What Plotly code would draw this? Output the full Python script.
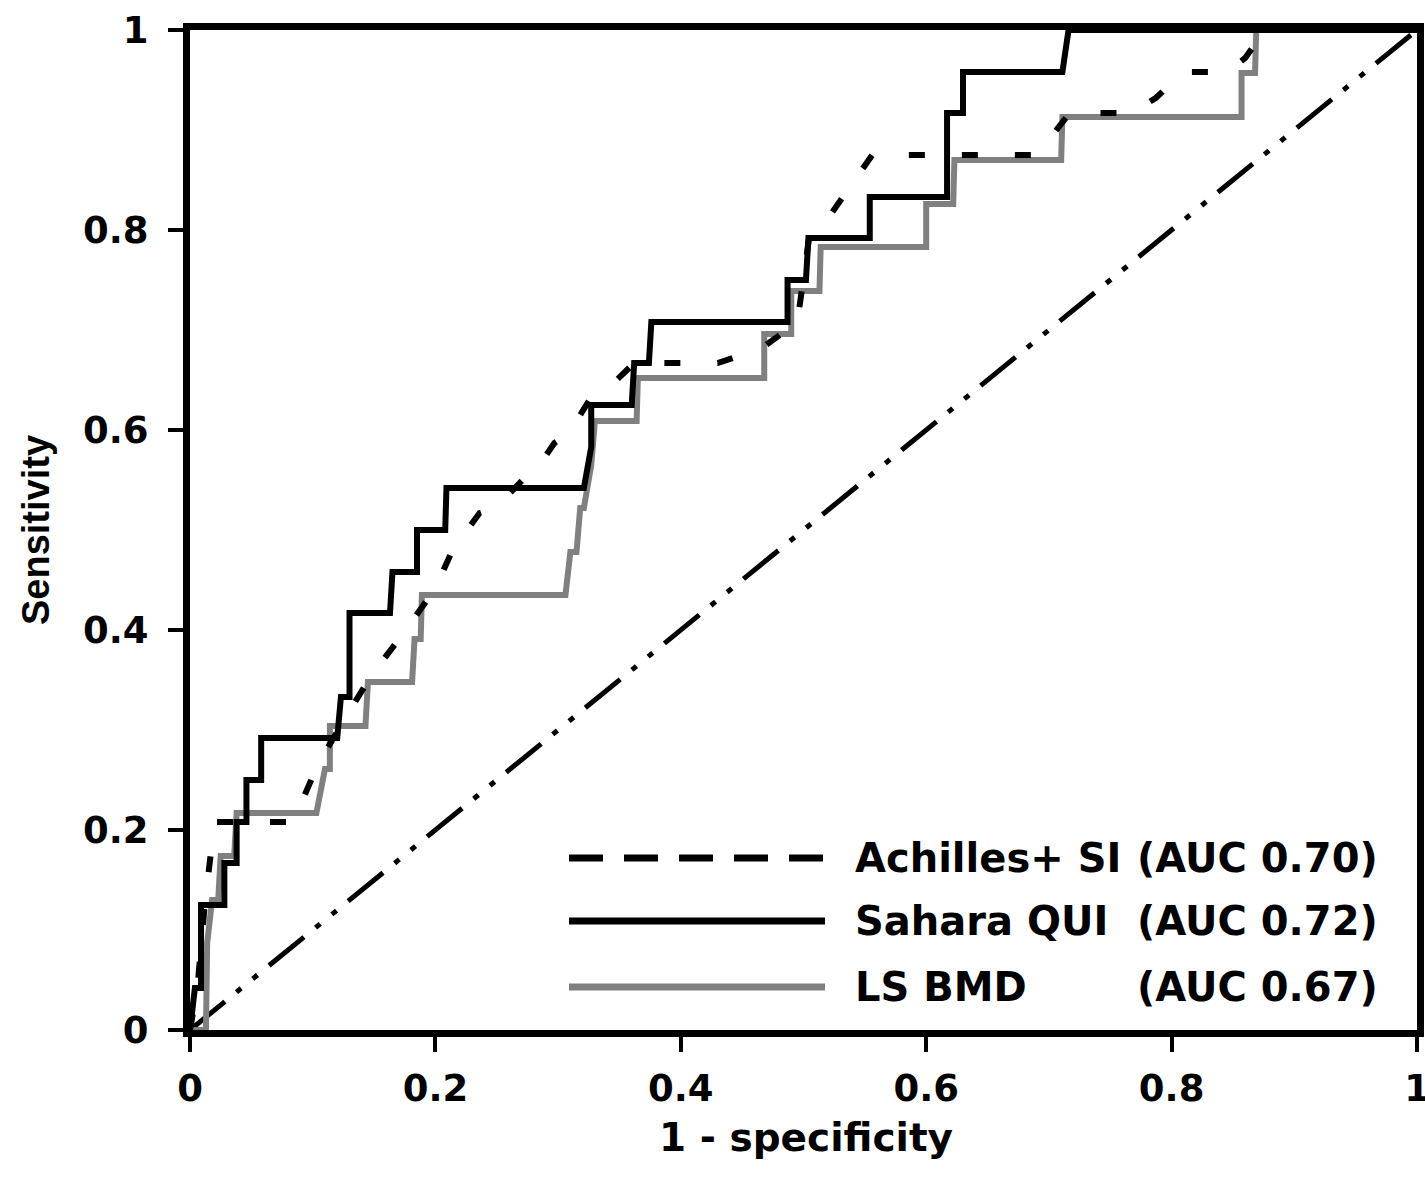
import plotly.graph_objects as go

# ---------------- data ----------------
sahara_fpr = [0, 0.004, 0.009, 0.009, 0.028, 0.028, 0.038, 0.038, 0.046, 0.046, 0.058, 0.058,
              0.12, 0.123, 0.13, 0.13, 0.163, 0.165, 0.185, 0.185, 0.208, 0.209, 0.321, 0.327,
              0.327, 0.36, 0.362, 0.374, 0.376, 0.487, 0.487, 0.502, 0.504, 0.554, 0.554, 0.617,
              0.617, 0.63, 0.63, 0.711, 0.716, 1.0]
sahara_tpr = [0, 0.042, 0.042, 0.125, 0.125, 0.167, 0.167, 0.208, 0.208, 0.25, 0.25, 0.292,
              0.292, 0.333, 0.333, 0.417, 0.417, 0.458, 0.458, 0.5, 0.5, 0.542, 0.542, 0.583,
              0.625, 0.625, 0.667, 0.667, 0.708, 0.708, 0.75, 0.75, 0.792, 0.792, 0.833, 0.833,
              0.917, 0.917, 0.958, 0.958, 1.0, 1.0]

lsbmd_fpr = [0, 0.013, 0.014, 0.018, 0.023, 0.025, 0.036, 0.038, 0.103, 0.11, 0.114, 0.114,
             0.143, 0.145, 0.181, 0.183, 0.188, 0.189, 0.306, 0.31, 0.315, 0.318, 0.321, 0.327,
             0.33, 0.364, 0.365, 0.468, 0.468, 0.49, 0.49, 0.513, 0.514, 0.6, 0.6, 0.622, 0.623,
             0.71, 0.711, 0.857, 0.857, 0.868, 0.869, 1.0]
lsbmd_tpr = [0, 0.0, 0.087, 0.13, 0.13, 0.174, 0.174, 0.217, 0.217, 0.261, 0.261, 0.304,
             0.304, 0.348, 0.348, 0.391, 0.391, 0.435, 0.435, 0.478, 0.478, 0.522, 0.522, 0.565,
             0.609, 0.609, 0.652, 0.652, 0.696, 0.696, 0.739, 0.739, 0.783, 0.783, 0.826, 0.826,
             0.87, 0.87, 0.913, 0.913, 0.957, 0.957, 1.0, 1.0]

achilles_fpr = [0, 0.006, 0.012, 0.02, 0.084, 0.09, 0.104, 0.128, 0.148, 0.176, 0.2, 0.214,
                0.236, 0.249, 0.271, 0.281, 0.297, 0.309, 0.325, 0.336, 0.362, 0.43, 0.465,
                0.495, 0.505, 0.519, 0.544, 0.556, 0.69, 0.706, 0.717, 0.768, 0.787, 0.81, 0.845,
                0.86, 0.876, 1.0]
achilles_tpr = [0, 0.042, 0.125, 0.208, 0.208, 0.225, 0.265, 0.315, 0.355, 0.40, 0.442, 0.48,
                0.517, 0.522, 0.55, 0.558, 0.587, 0.597, 0.629, 0.636, 0.667, 0.667, 0.681,
                0.708, 0.796, 0.81, 0.853, 0.875, 0.875, 0.9, 0.917, 0.917, 0.932, 0.958, 0.958,
                0.972, 1.0, 1.0]

diag_x = [0, 1]
diag_y = [0, 1]

tick_vals = [0, 0.2, 0.4, 0.6, 0.8, 1]
tick_text = ["0", "0.2", "0.4", "0.6", "0.8", "1"]

legend_labels = ["Achilles+ SI", "Sahara QUI", "LS BMD"]
legend_auc = ["(AUC 0.70)", "(AUC 0.72)", "(AUC 0.67)"]

x_title = "1 - specificity"
y_title = "Sensitivity"

# ---------------- layout constants ----------------
W, H = 1425, 1180
ML, MR, MT, MB = 190, 8, 30, 150
PW, PH = W - ML - MR, H - MT - MB
FONT = "DejaVu Sans"


def px2paper(px, py):
    return (px - ML) / PW, (H - MB - py) / PH


fig = go.Figure()

fig.add_trace(go.Scatter(x=diag_x, y=diag_y, mode="lines", showlegend=False,
                         line=dict(color="black", width=5,
                                   dash="45px,15px,6px,15px,6px,15px")))
fig.add_trace(go.Scatter(x=lsbmd_fpr, y=lsbmd_tpr, mode="lines", name="LS BMD",
                         showlegend=False, line=dict(color="#808080", width=6)))
fig.add_trace(go.Scatter(x=sahara_fpr, y=sahara_tpr, mode="lines", name="Sahara QUI",
                         showlegend=False, line=dict(color="black", width=6)))
fig.add_trace(go.Scatter(x=achilles_fpr, y=achilles_tpr, mode="lines", name="Achilles+ SI",
                         showlegend=False, line=dict(color="black", width=6, dash="16px,37px")))

# ---------------- manual legend (long line samples) ----------------
legend_rows_py = [858, 921, 987]
legend_styles = [dict(color="black", width=7, dash="34px,21px"),
                 dict(color="black", width=7),
                 dict(color="#808080", width=7)]
shapes = []
annotations = []
for i in range(3):
    py = legend_rows_py[i]
    x0, y0 = px2paper(569, py)
    x1, _ = px2paper(825, py)
    shapes.append(dict(type="line", xref="paper", yref="paper", x0=x0, x1=x1, y0=y0, y1=y0,
                       line=legend_styles[i]))
    xt, yt = px2paper(853, py)
    annotations.append(dict(xref="paper", yref="paper", x=xt, y=yt, xanchor="left",
                            yanchor="middle", text=legend_labels[i], showarrow=False,
                            font=dict(family=FONT, size=40, color="black", weight="bold")))
    xa, _ = px2paper(1380, py)
    annotations.append(dict(xref="paper", yref="paper", x=xa, y=yt, xanchor="right",
                            yanchor="middle", text=legend_auc[i], showarrow=False,
                            font=dict(family=FONT, size=40, color="black", weight="bold")))

# x-axis title placed as annotation for precise vertical position
xt_x, xt_y = px2paper(806, 1137)
annotations.append(dict(xref="paper", yref="paper", x=xt_x, y=xt_y, xanchor="center",
                        yanchor="middle", text=x_title, showarrow=False,
                        font=dict(family=FONT, size=39, color="black", weight="bold")))

axis_common = dict(range=[0, 1], tickvals=tick_vals, ticktext=tick_text, showline=True,
                   linewidth=7, linecolor="black", mirror=True, ticks="outside", ticklen=15,
                   tickwidth=4, tickcolor="black", showgrid=False, zeroline=False,
                   ticklabeloverflow="allow",
                   tickfont=dict(family=FONT, size=37, color="black", weight="bold"))

fig.update_layout(
    width=W, height=H,
    margin=dict(l=ML, r=MR, t=MT, b=MB, autoexpand=False),
    paper_bgcolor="white", plot_bgcolor="white",
    showlegend=False,
    xaxis=dict(**axis_common, ticklabelstandoff=5),
    yaxis=dict(**axis_common, ticklabelstandoff=12,
               title=dict(text=y_title, standoff=24,
                          font=dict(family="Liberation Sans", size=38, color="black",
                                    weight="bold"))),
    shapes=shapes,
    annotations=annotations,
)

fig.write_html("out.html")
